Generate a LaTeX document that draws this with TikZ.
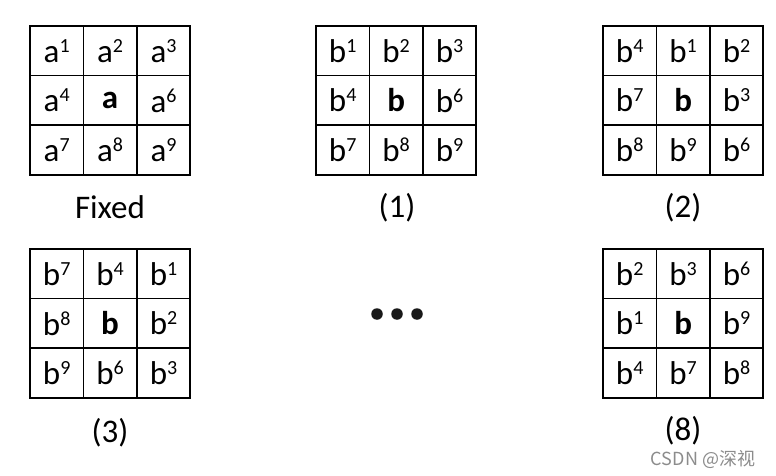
\documentclass[tikz,border=0pt]{standalone}
\usepackage{fontspec}
\setmainfont{Carlito}
\newfontfamily\cjkfont{Noto Sans CJK SC}
\newcommand\sx[1]{\raisebox{10pt}{\fontsize{20}{20}\selectfont #1}}
\newcommand\mygrid[4]{%
  \foreach \t [count=\i from 0] in {#4} {
    \pgfmathtruncatemacro\rr{\i/3}
    \pgfmathtruncatemacro\cc{\i-3*\rr}
    \node[cell] (#1-\i) at ({#2+53.4*(\cc+0.5)},{#3+49.6*(\rr+0.5)}) {\t};
  }}
\tikzset{
  cell/.style={draw, line width=1.5pt, minimum width=53.4pt, minimum height=49.6pt, inner sep=0pt, font=\fontsize{33}{33}\selectfont},
  lab/.style={font=\fontsize{33}{33}\selectfont, inner sep=0pt},
  dotmark/.style={circle, fill=black!90, inner sep=0pt, minimum size=11.5pt},
  wm/.style={font=\cjkfont\fontsize{18}{18}\selectfont, text=black!45, inner sep=0pt}
}
\begin{document}
\begin{tikzpicture}[x=1pt,y=-1pt]
\useasboundingbox (0,0) rectangle (776,476);
\fill[white] (0,0) rectangle (776,476);
\mygrid{F}{30}{26}{a\sx{1},a\sx{2},a\sx{3},a\sx{4},\textbf{a},a\sx{6},a\sx{7},a\sx{8},a\sx{9}}
\mygrid{G1}{316}{26}{b\sx{1},b\sx{2},b\sx{3},b\sx{4},\textbf{b},b\sx{6},b\sx{7},b\sx{8},b\sx{9}}
\mygrid{G2}{603}{26}{b\sx{4},b\sx{1},b\sx{2},b\sx{7},\textbf{b},b\sx{3},b\sx{8},b\sx{9},b\sx{6}}
\mygrid{G3}{30}{249}{b\sx{7},b\sx{4},b\sx{1},b\sx{8},\textbf{b},b\sx{2},b\sx{9},b\sx{6},b\sx{3}}
\mygrid{G8}{603}{249}{b\sx{2},b\sx{3},b\sx{6},b\sx{1},\textbf{b},b\sx{9},b\sx{4},b\sx{7},b\sx{8}}
\node[lab] (lF) at (110,207) {Fixed};
\node[lab] (l1) at (397,208) {(1)};
\node[lab] (l2) at (683,208) {(2)};
\node[lab] (l3) at (110,433) {(3)};
\node[lab] (l8) at (683,431) {(8)};
\node[dotmark] (d1) at (377,314) {};
\node[dotmark] (d2) at (397,314) {};
\node[dotmark] (d3) at (417,314) {};
\node[wm] (wmk) at (703,460) {CSDN @深视};
\end{tikzpicture}
\end{document}
